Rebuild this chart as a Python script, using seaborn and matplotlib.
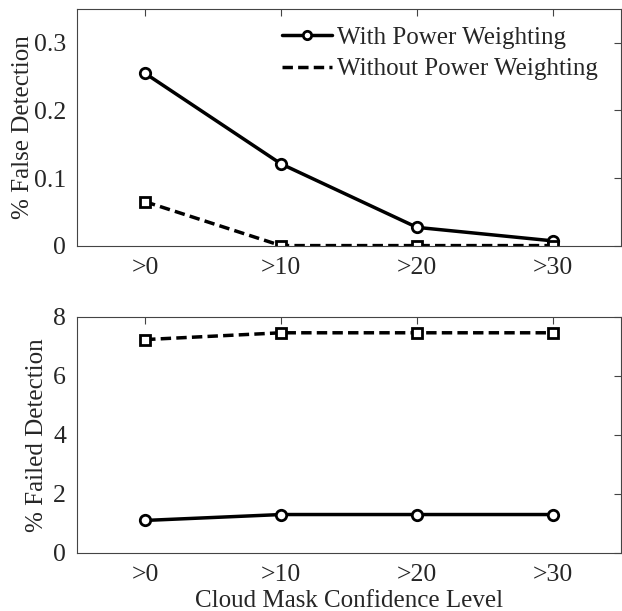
import pandas as pd
import matplotlib
matplotlib.use('Agg')
import matplotlib.pyplot as plt
import seaborn as sns

# Data
levels = ['>0', '>10', '>20', '>30']
false_with = [0.255, 0.121, 0.027, 0.007]
false_without = [0.065, 0.0, 0.0, 0.0]
failed_with = [1.1, 1.3, 1.3, 1.3]
failed_without = [7.22, 7.45, 7.45, 7.45]

series_names = ['With Power Weighting', 'Without Power Weighting']

sns.set_style('white')
plt.rcParams['font.family'] = ['Liberation Serif', 'DejaVu Serif']


def long_form(with_vals, without_vals):
    rows = []
    for i, lev in enumerate(levels):
        rows.append({'pos': i, 'value': with_vals[i], 'series': series_names[0]})
    for i, lev in enumerate(levels):
        rows.append({'pos': i, 'value': without_vals[i], 'series': series_names[1]})
    return pd.DataFrame(rows)


df_false = long_form(false_with, false_without)
df_failed = long_form(failed_with, failed_without)

fig, (ax1, ax2) = plt.subplots(2, 1, figsize=(6.22, 6.11), dpi=100)
fig.subplots_adjust(left=0.124, right=0.998, top=0.985, bottom=0.095, hspace=0.3)

dashes = {series_names[0]: '', series_names[1]: (3, 1.5)}
markers = {series_names[0]: 'o', series_names[1]: 's'}

for ax, df in [(ax1, df_false), (ax2, df_failed)]:
    sns.lineplot(data=df, x='pos', y='value', style='series', dashes=dashes,
                 markers=markers, color='black', linewidth=2.5,
                 markersize=7.5, markerfacecolor='white', markeredgecolor='black',
                 markeredgewidth=2.0, ax=ax, legend=(ax is ax1))
    ax.set_xlim(-0.5, 3.5)
    ax.set_xticks(range(len(levels)))
    ax.set_xticklabels(levels)
    ax.tick_params(direction='in', length=5, labelsize=18.5, top=True, right=True,
                   pad=8, color='#444444')
    for s in ax.spines.values():
        s.set_color('#444444')
        s.set_linewidth(0.8)

ax1.set_ylim(0, 0.35)
ax1.set_yticks([0, 0.1, 0.2, 0.3])
ax1.set_yticklabels(['0', '0.1', '0.2', '0.3'])
ax1.set_ylabel('% False Detection', fontsize=18, labelpad=0)
ax1.set_xlabel('')

ax2.set_ylim(0, 8)
ax2.set_yticks([0, 2, 4, 6, 8])
ax2.set_ylabel('% Failed Detection', fontsize=18)
ax2.set_xlabel('Cloud Mask Confidence Level', fontsize=18, labelpad=3)

leg = ax1.legend(loc='upper right', frameon=False, fontsize=18, handlelength=2.0,
                 handletextpad=0.2, borderaxespad=0.3, labelspacing=0.35,
                 bbox_to_anchor=(0.99, 1.0))
handles = leg.get_lines()
for h in handles:
    h.set_linewidth(2.5)
    h.set_markevery([1])
    h.set_markersize(6)
handles[1].set_marker('None')

plt.savefig('out.png', dpi=100)
plt.close()
